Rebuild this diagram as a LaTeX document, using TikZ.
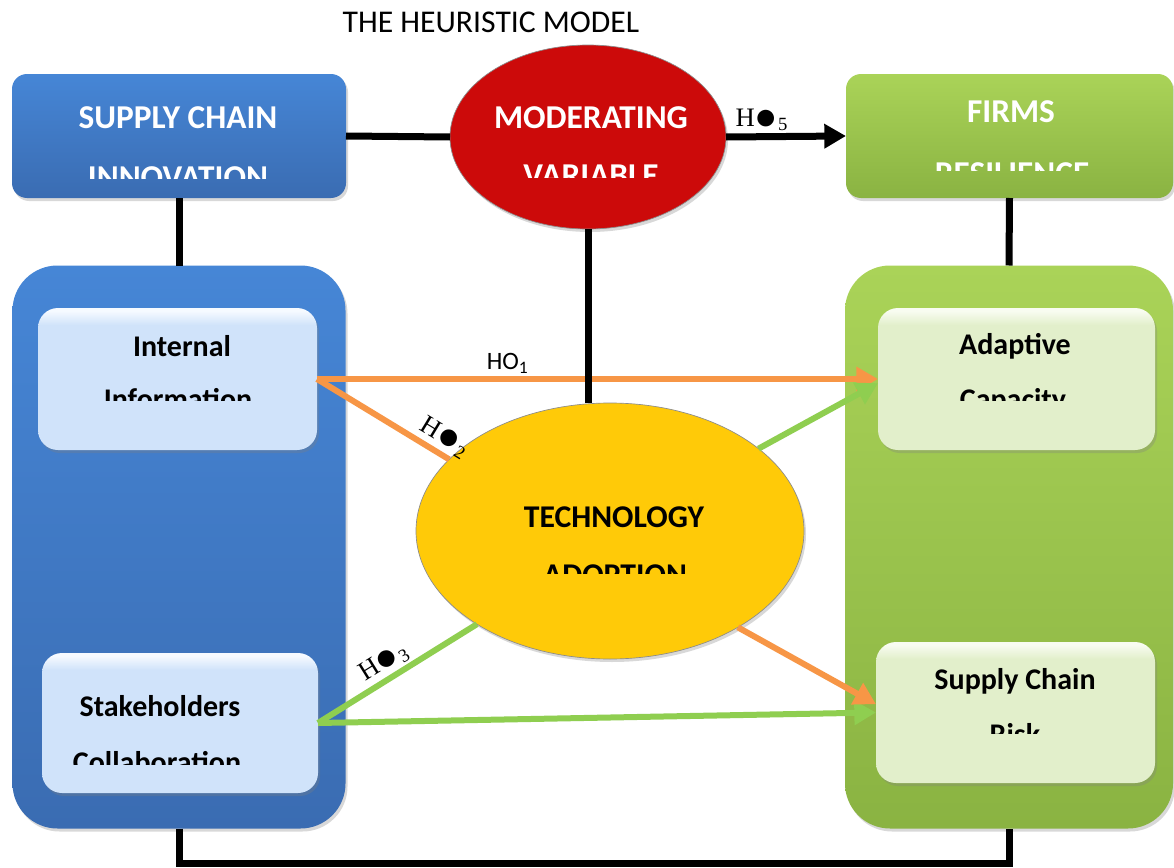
\documentclass[tikz,border=0pt]{standalone}
\usepackage{fontspec}
\usepackage{graphicx}
\setmainfont{Carlito}
\newfontfamily\hypfont{Liberation Serif}
\usetikzlibrary{arrows.meta,shapes.geometric,shadows}

\definecolor{scitop}{HTML}{4686D6}
\definecolor{scibot}{HTML}{3A6CB2}
\definecolor{frtop}{HTML}{AAD358}
\definecolor{frbot}{HTML}{8AB342}
\definecolor{modred}{HTML}{CC0A0A}
\definecolor{techyel}{HTML}{FFCA08}
\definecolor{infobg}{HTML}{D0E3FA}
\definecolor{infohi}{HTML}{F6FAFF}
\definecolor{adaptbg}{HTML}{E2EFCB}
\definecolor{adapthi}{HTML}{F8FCF1}
\definecolor{hyorange}{HTML}{F79646}
\definecolor{hygreen}{HTML}{8FCE50}

% glossy top edge of the small boxes
\pgfdeclareverticalshading{glossblue}{100bp}{color(0bp)=(infobg); color(25bp)=(infobg);
  color(69bp)=(infobg); color(74bp)=(infohi); color(100bp)=(infohi)}
\pgfdeclareverticalshading{glossgreen}{100bp}{color(0bp)=(adaptbg); color(25bp)=(adaptbg);
  color(69bp)=(adaptbg); color(74bp)=(adapthi); color(100bp)=(adapthi)}

% hypothesis tag H(dot)n
\newcommand{\hyp}[1]{{\hypfont H\raisebox{-.25ex}{\scalebox{1.45}{●}}\textsubscript{#1}}}

% second line of a label, cut off at height #5
\newcommand{\cutlabel}[6][]{%
  \begin{scope}
    \clip (0,0) rectangle (1174,#5);
    \node[#1] (#2) at (#3,#4) {#6};
  \end{scope}}

\begin{document}
\begin{tikzpicture}[x=0.6pt, y=-0.6pt,
  box/.style={rounded corners=#1, inner sep=0pt, outer sep=0pt,
    drop shadow={shadow xshift=1.2pt, shadow yshift=-1.8pt, opacity=.3}},
  box/.default=9pt,
  blueshade/.style={top color=scitop, bottom color=scibot},
  greenshade/.style={top color=frtop, bottom color=frbot},
  bubble/.style={ellipse, inner sep=0pt, outer sep=0pt, draw=black!45, line width=.4pt,
    drop shadow={shadow xshift=1.2pt, shadow yshift=-1.8pt, opacity=.3}},
  headline/.style={font=\fontsize{20}{24}\selectfont\bfseries, text=white, anchor=base, inner sep=0pt},
  subline/.style={font=\fontsize{18}{22}\selectfont\bfseries, anchor=base, inner sep=0pt},
  techline/.style={font=\fontsize{19}{23}\selectfont\bfseries, anchor=base, inner sep=0pt},
  blackline/.style={line width=4.2pt},
  hyline/.style={line width=3.6pt, draw=#1},
  bigtip/.style={-{Triangle[length=13pt,width=14pt]}},
  hyptag/.style={font=\fontsize{15}{18}\selectfont, inner sep=1.5pt},
  hypdot/.style={font=\fontsize{16}{18}\selectfont, inner sep=1.5pt}
]
\path[use as bounding box, fill=white] (0,0) rectangle (1174,868);

\node[anchor=base, font=\fontsize{19}{23}\selectfont] (title) at (491,33) {THE HEURISTIC MODEL};

% big panels
\node[box=27pt, blueshade, minimum width=333*.6pt, minimum height=563*.6pt] (sciBig) at (179,547) {};
\node[box=27pt, greenshade, minimum width=328*.6pt, minimum height=563*.6pt] (frBig) at (1009,547) {};

% top boxes
\node[box, blueshade, minimum width=334*.6pt, minimum height=124*.6pt] (sci) at (179,136) {};
\node[box, greenshade, minimum width=327*.6pt, minimum height=124*.6pt] (fr) at (1009.5,136) {};
\node[bubble, fill=modred, minimum width=276*.6pt, minimum height=184*.6pt] (mod) at (588,137) {};

% inner boxes
\node[box=12pt, shading=glossblue, minimum width=279*.6pt, minimum height=142*.6pt] (info) at (177.5,379) {};
\node[box=12pt, shading=glossblue, minimum width=276*.6pt, minimum height=140*.6pt] (stake) at (180,723) {};
\node[box=12pt, shading=glossgreen, minimum width=277*.6pt, minimum height=142*.6pt] (adapt) at (1016.5,379) {};
\node[box=12pt, shading=glossgreen, minimum width=279*.6pt, minimum height=141*.6pt] (risk) at (1015.5,712.5) {};

\node[bubble, fill=techyel, minimum width=388*.6pt, minimum height=256*.6pt] (tech) at (610,531) {};

% hypotheses
\draw[hyline=hyorange, bigtip] (info.east) -- node[above, pos=.34, hyptag] (ho1) {HO\textsubscript{1}} (adapt.west);
\draw[hyline=hyorange] (info.east) -- node[sloped, above, pos=.9, hypdot] (h2) {\hyp{2}} (tech.156);
\draw[hyline=hygreen, bigtip] (tech.29) -- ([yshift=-2.5pt]adapt.west);
\draw[hyline=hygreen] (stake.east) -- node[sloped, above, pos=.47, hypdot] (h3) {\hyp{3}} (tech.215);
\draw[hyline=hygreen, bigtip] (stake.east) -- (risk.west);
\draw[hyline=hyorange, bigtip] (tech.323) -- ([yshift=5pt]risk.west);

% black links
\draw[blackline] (sci.east) -- (mod.west);
\draw[blackline, bigtip] (mod.east) -- node[above, pos=.3, hypdot] (h5) {\hyp{5}} (fr.west);
\draw[blackline] (sci.south) -- (sciBig.north);
\draw[blackline] (fr.south) -- (frBig.north);
\draw[blackline] (mod.south) -- (mod.south |- tech.north);
\draw[blackline] (sciBig.south) -- ++(0,35) -| (frBig.south);

% labels
\node[headline] (sciA) at (178,128) {SUPPLY CHAIN};
\cutlabel[headline]{sciB}{178}{188}{178}{INNOVATION}
\node[headline] (modA) at (591,128) {MODERATING};
\cutlabel[headline]{modB}{591}{186}{177}{VARIABLE}
\node[headline] (frA) at (1011,122) {FIRMS};
\cutlabel[headline]{frB}{1012}{184}{170}{RESILIENCE}
\node[subline] (infoA) at (182,356) {Internal};
\cutlabel[subline]{infoB}{178}{409}{400}{Information}
\node[subline] (stakeA) at (160,716) {Stakeholders};
\cutlabel[subline]{stakeB}{157}{772}{764}{Collaboration}
\node[subline] (adaptA) at (1015,354) {Adaptive};
\cutlabel[subline]{adaptB}{1013}{409}{400}{Capacity}
\node[subline] (riskA) at (1015,689) {Supply Chain};
\cutlabel[subline]{riskB}{1015}{744}{733}{Risk}
\node[techline] (techA) at (614,527) {TECHNOLOGY};
\cutlabel[techline]{techB}{615}{585}{573}{ADOPTION}
\end{tikzpicture}
\end{document}
